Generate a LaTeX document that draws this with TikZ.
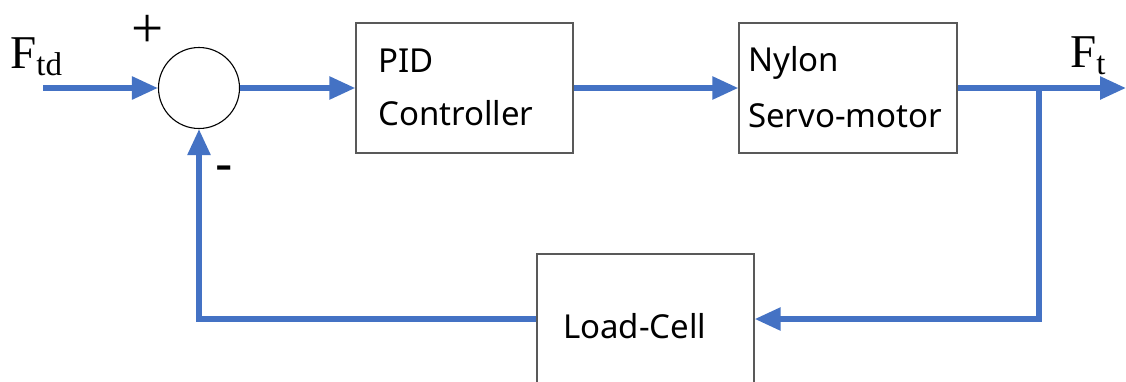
\documentclass[tikz,border=0pt]{standalone}
\usepackage{fontspec}
\setmainfont{Liberation Serif}
\newfontfamily\boxfont{Noto Sans}
\usetikzlibrary{arrows.meta,calc}
\definecolor{lineblue}{HTML}{4472C4}
\definecolor{boxgray}{HTML}{595959}
\begin{document}
\begin{tikzpicture}[x=1pt,y=-1pt,
  sig/.style={draw=lineblue, line width=5.5pt},
  arr/.style={sig, -{Triangle[length=26pt,width=22pt]}},
  blk/.style={draw=boxgray, line width=1.3pt, inner sep=0pt, minimum height=130pt},
  lbl/.style={font=\boxfont\fontsize{33}{40}\selectfont, anchor=base west, inner sep=0pt},
  sym/.style={font=\fontsize{47}{50}\selectfont, anchor=base west, inner sep=0pt}]
\useasboundingbox (0,0) rectangle (1126,381);
\clip (0,0) rectangle (1126,381);
\fill[white] (0,0) rectangle (1126,381);

% blocks
\node[draw, circle, minimum size=81pt, line width=1.1pt, inner sep=0pt] (sum) at (199,88) {};
\node[blk, minimum width=217pt] (pid) at (464.5,88) {};
\node[blk, minimum width=218pt] (servo) at (848,88) {};
\node[blk, minimum width=217pt] (load) at (645.5,319) {};

% block texts
\node[lbl] (pidA) at (378,72) {PID};
\node[lbl] (pidB) at (378,125) {Controller};
\node[lbl] (srvA) at (748,71) {Nylon};
\node[lbl] (srvB) at (748,127) {Servo-motor};
\node[lbl] (lc) at (563,338) {Load-Cell};

% signal labels
\node[sym] (ftd) at (10,68) {F\raisebox{-7pt}{\fontsize{33}{35}\selectfont td}};
\node[sym] (ft) at (1070,67) {F\raisebox{-7pt}{\fontsize{33}{35}\selectfont t}};
\node[font=\fontsize{57}{60}\selectfont, inner sep=0pt] (plus) at (148,31) {+};
\node[font=\boxfont\bfseries\fontsize{54}{54}\selectfont, inner sep=0pt] (minus) at (224,174) {-};

% connectors
\coordinate (in) at (43,88);
\coordinate (out) at (1126,88);
\coordinate (split) at (1039,88);
\draw[arr] (in) -- (sum.west);
\draw[arr] (sum.east) -- (pid.west);
\draw[arr] (pid.east) -- (servo.west);
\draw[arr] (servo.east) -- (out);
\draw[arr] (split) |- (load.east);
\draw[arr] (load.west) -| (sum.south);
\end{tikzpicture}
\end{document}
